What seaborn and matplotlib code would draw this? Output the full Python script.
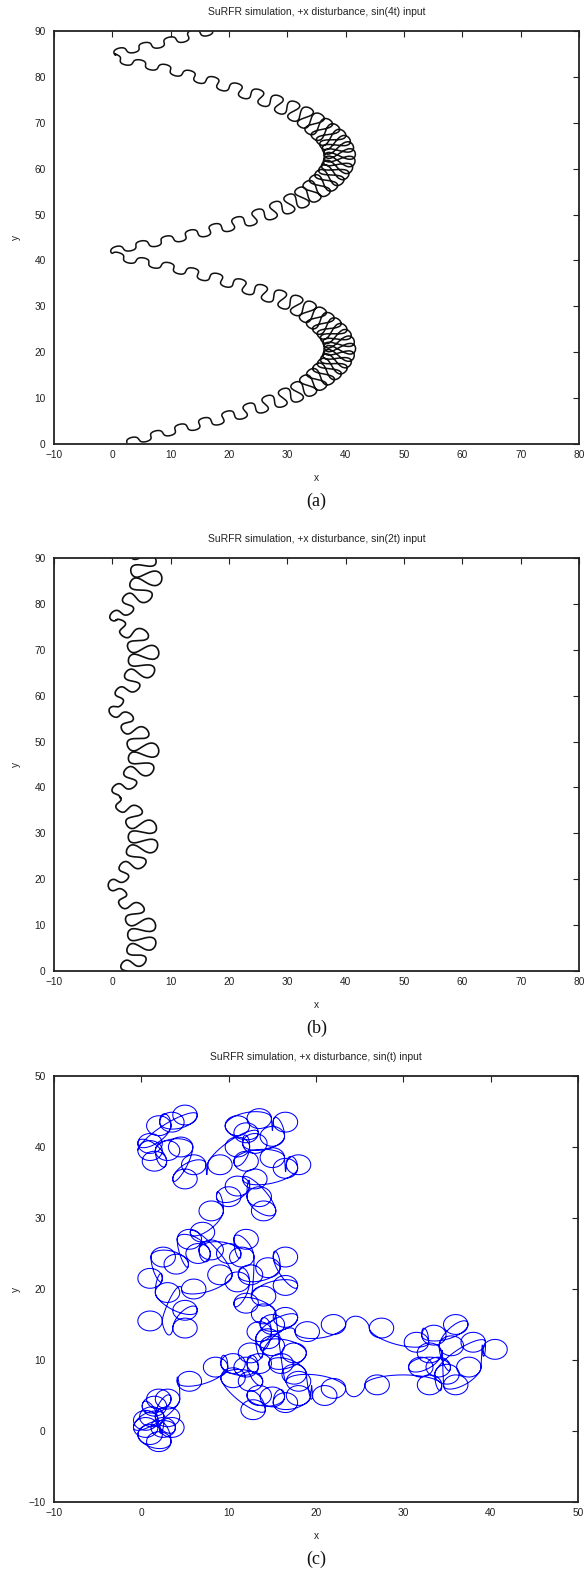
import numpy as np
import matplotlib
matplotlib.use("Agg")
import matplotlib.pyplot as plt
import seaborn as sns

sns.set_theme(style="white")
plt.rcParams['font.family'] = ['Liberation Sans', 'DejaVu Sans']

# ---------------- data ----------------
titles = ["SuRFR simulation, +x disturbance, sin(4t) input",
          "SuRFR simulation, +x disturbance, sin(2t) input",
          "SuRFR simulation, +x disturbance, sin(t) input"]
captions = ["(a)", "(b)", "(c)"]

# panel (a): centre line of the wavy trajectory, wiggle half-width, wiggle length
a_cx = [2.5, 10, 20, 27, 32, 35.5, 38, 39, 38, 35.5, 32, 27, 20, 10, 0,
        10, 20, 27, 32, 35.5, 38, 39, 38, 35.5, 32, 27, 20, 10, 0, 10, 20]
a_cy = [0.3, 2.8, 6.0, 9.0, 11.5, 14.5, 17.5, 20.8, 24.0, 27.0, 30.0, 32.5, 35.3, 38.5, 41.6,
        44.6, 47.6, 50.5, 53.3, 56.2, 59.3, 62.6, 66.0, 69.0, 72.0, 74.8, 77.8, 81.5, 84.6, 87.8, 91.5]
a_amp = [0.8, 0.9, 1.2, 1.6, 2.0, 2.4, 2.6, 2.7, 2.6, 2.4, 2.0, 1.6, 1.2, 0.9, 0.8,
         0.9, 1.2, 1.6, 2.0, 2.4, 2.6, 2.7, 2.6, 2.4, 2.0, 1.6, 1.2, 0.9, 0.8, 0.9, 1.2]
a_len = [4.3, 4.4, 4.2, 3.5, 2.5, 1.7, 1.3, 1.2, 1.3, 1.7, 2.5, 3.5, 4.2, 4.4, 4.5,
         4.4, 4.2, 3.5, 2.5, 1.7, 1.3, 1.2, 1.3, 1.7, 2.5, 3.5, 4.2, 4.4, 4.5, 4.4, 4.2]

# panel (b)
b_cx = [2.5, 4.3, 5.2, 4.5, 2.5, 0.3, 2.5, 4.6, 5.4, 4.6, 2.5, 0.3, 2.5, 4.6, 5.4, 4.6,
        2.5, 0.3, 2.5, 4.6, 5.4, 4.6, 2.5, 0.3, 2.6, 4.8, 5.8, 5.3, 4.5]
b_cy = [0.0, 3.5, 7.5, 11.5, 15.0, 18.5, 22.0, 25.5, 29.0, 32.5, 35.5, 37.8, 41.0, 44.0, 47.2, 50.5,
        54.5, 57.5, 61.5, 65.0, 68.5, 72.0, 74.5, 76.3, 79.5, 82.5, 85.5, 89.0, 92.5]
b_amp = [1.4, 2.0, 2.6, 2.3, 1.4, 1.0, 1.5, 2.3, 2.7, 2.3, 1.5, 1.0, 1.5, 2.3, 2.7, 2.3,
         1.5, 1.0, 1.5, 2.3, 2.7, 2.3, 1.5, 1.0, 1.5, 2.3, 2.7, 2.3, 1.6]
b_len = [4.0, 3.8, 3.6, 3.8, 4.2, 4.5, 4.2, 3.8, 3.6, 3.8, 4.2, 4.5, 4.2, 3.8, 3.6, 3.8,
         4.2, 4.5, 4.2, 3.8, 3.6, 3.8, 4.2, 4.5, 4.2, 3.8, 3.6, 3.8, 4.0]

# panel (c): centres of the small loops, in the order the path visits them
c_lx = [0.5, 1.5, 2.0, 3.0, 2.5, 1.0, 2.0, 3.5, 1.2, 0.5, 3.0, 5.5, 8.5, 10.5,
        12.0, 13.5, 12.5, 10.5, 12.8, 13.5, 15.0, 16.5, 18.0, 21.0, 17.5, 16.0, 17.5, 15.0,
        13.5, 15.0, 16.5, 14.5, 12.5, 19.0, 22.0, 27.5, 31.5, 33.5, 36.0, 35.5, 34.0, 32.0,
        33.0, 36.0, 37.5, 40.5, 38.0, 35.0, 33.0, 27.0, 22.0, 18.0, 14.0, 12.0, 11.0, 12.5,
        14.5, 16.5, 16.5, 14.0, 11.5, 12.0, 10.0, 8.0, 6.5, 5.5, 4.0, 2.5, 1.0, 3.0, 5.0,
        5.0, 1.0, 6.0, 9.0, 7.0, 8.0, 10.0, 11.0, 13.5, 14.0, 13.0, 16.5, 18.0, 15.0, 12.0,
        11.0, 13.0, 15.0, 16.5, 13.5, 11.0, 12.0, 9.0, 6.0, 5.0, 4.5, 3.0, 1.5, 1.0, 2.0,
        3.5, 5.0, 1.0]
c_ly = [1.5, 3.5, 4.5, 2.0, 0.5, -0.5, -1.5, 0.5, 2.0, 0.5, 4.5, 7.0, 9.0, 9.5,
        9.0, 9.5, 7.0, 7.5, 3.0, 5.0, 4.8, 4.0, 5.0, 5.0, 8.0, 9.5, 11.0, 12.0,
        14.0, 15.0, 16.0, 13.0, 11.0, 14.0, 15.0, 14.5, 12.5, 13.5, 15.0, 12.0, 9.0, 9.0,
        11.0, 6.5, 9.0, 11.5, 12.5, 8.0, 6.5, 6.5, 6.0, 7.0, 16.5, 18.0, 21.0, 22.0,
        23.0, 24.5, 20.5, 19.0, 24.5, 27.0, 25.0, 25.5, 25.0, 27.0, 23.5, 24.5, 21.5, 19.5, 17.0,
        14.5, 15.5, 20.0, 22.0, 28.0, 31.0, 33.0, 34.5, 33.0, 31.0, 35.5, 37.0, 37.5, 38.5, 38.0,
        40.0, 40.5, 41.5, 43.5, 44.0, 43.0, 42.0, 37.5, 37.5, 35.5, 40.0, 39.5, 38.0, 40.5, 43.0,
        43.5, 44.5, 39.5]
c_r = 1.4

xlims = [(-10, 80), (-10, 80), (-10, 50)]
ylims = [(0, 90), (0, 90), (-10, 50)]
xticks = [list(range(-10, 81, 10)), list(range(-10, 81, 10)), list(range(-10, 51, 10))]
yticks = [list(range(0, 91, 10)), list(range(0, 91, 10)), list(range(-10, 51, 10))]


# ---------------- helpers ----------------
def catmull_rom(px, py, m=40):
    P = np.column_stack([px, py]).astype(float)
    P = np.vstack([2 * P[0] - P[1], P, 2 * P[-1] - P[-2]])
    t = np.linspace(0, 1, m, endpoint=False)[:, None]
    out = []
    for i in range(1, len(P) - 2):
        p0, p1, p2, p3 = P[i - 1], P[i], P[i + 1], P[i + 2]
        seg = 0.5 * ((2 * p1) + (-p0 + p2) * t + (2 * p0 - 5 * p1 + 4 * p2 - p3) * t ** 2
                     + (-p0 + 3 * p1 - 3 * p2 + p3) * t ** 3)
        out.append(seg)
    out.append(P[-2][None, :])
    return np.vstack(out)


def wiggle_path(cx, cy, amp, lam, bratio, n=12000, m=40):
    C = catmull_rom(cx, cy, m)
    d = np.hypot(*np.diff(C, axis=0).T)
    s = np.concatenate([[0], np.cumsum(d)])
    sw = s[::m]
    su = np.linspace(0, s[-1], n)
    x = np.interp(su, s, C[:, 0])
    y = np.interp(su, s, C[:, 1])
    tx, ty = np.gradient(x), np.gradient(y)
    nn = np.hypot(tx, ty)
    tx, ty = tx / nn, ty / nn
    nx, ny = -ty, tx
    a = np.interp(su, sw, amp)
    l = np.interp(su, sw, lam)
    b = bratio * a
    phi = 2 * np.pi * np.concatenate([[0], np.cumsum(np.diff(su) / l[1:])])
    X = x + a * nx * np.sin(phi) - b * tx * np.sin(2 * phi)
    Y = y + a * ny * np.sin(phi) - b * ty * np.sin(2 * phi)
    return X, Y


def loop_path(cx, cy, r, per=120):
    xs, ys = [], []
    ang0 = 0.0
    n = len(cx)
    for i in range(n):
        tt = np.linspace(0, 1, per, endpoint=False)
        ang = ang0 + 2 * np.pi * tt
        xs.append(cx[i] + r * np.cos(ang))
        ys.append(cy[i] + r * np.sin(ang))
        ang0 += 2 * np.pi
        if i < n - 1:
            tt = np.linspace(0, 1, per // 2, endpoint=False)
            e = tt * tt * (3 - 2 * tt)
            ang = ang0 + np.pi * tt
            xs.append(cx[i] + (cx[i + 1] - cx[i]) * e + r * np.cos(ang))
            ys.append(cy[i] + (cy[i + 1] - cy[i]) * e + r * np.sin(ang))
            ang0 += np.pi
    return np.concatenate(xs), np.concatenate(ys)


# ---------------- figure ----------------
W, H = 586, 1569
fig = plt.figure(figsize=(W / 100, H / 100), dpi=100)

rects = [(54, 31, 579, 444), (54, 558, 579, 971), (54, 1076, 578, 1502)]

paths = [wiggle_path(a_cx, a_cy, a_amp, a_len, 0.35),
         wiggle_path(b_cx, b_cy, b_amp, b_len, 0.35),
         loop_path(c_lx, c_ly, c_r)]
colors = ["#111111", "#111111", "#0000ff"]
lws = [1.1, 1.2, 0.75]

for k, (l, t, r, b) in enumerate(rects):
    ax = fig.add_axes([l / W, 1 - b / H, (r - l) / W, (b - t) / H])
    X, Y = paths[k]
    sns.lineplot(x=X, y=Y, sort=False, estimator=None, ax=ax,
                 color=colors[k], linewidth=lws[k])
    ax.set_xlim(*xlims[k])
    ax.set_ylim(*ylims[k])
    ax.set_xticks(xticks[k])
    ax.set_yticks(yticks[k])
    ax.tick_params(direction="in", length=4, width=0.8, top=True, right=True,
                   labelsize=7.3, colors="#222222")
    ax.tick_params(axis="x", pad=4)
    ax.tick_params(axis="y", pad=6)
    for sp in ax.spines.values():
        sp.set_linewidth(1.3)
        sp.set_color("#222222")
    ax.set_xlabel("x", fontsize=7.3, color="#222222")
    ax.set_ylabel("y", fontsize=7.3, color="#222222")
    ax.xaxis.set_label_coords(0.5, -34 / (b - t))
    ax.xaxis.label.set_va("center")
    ax.yaxis.set_label_coords((16 - l) / (r - l), 0.5)
    ax.yaxis.label.set_va("center")
    ax.grid(False)
    fig.text((l + r) / 2 / W, 1 - (t - 19) / H, titles[k], ha="center", va="center",
             fontsize=7.5, color="#222222")
    fig.text((l + r) / 2 / W, 1 - (b + 57) / H, captions[k], ha="center", va="center",
             fontsize=13, family=["Liberation Serif", "DejaVu Serif"], color="#111111")

fig.savefig("out.png", dpi=100)
